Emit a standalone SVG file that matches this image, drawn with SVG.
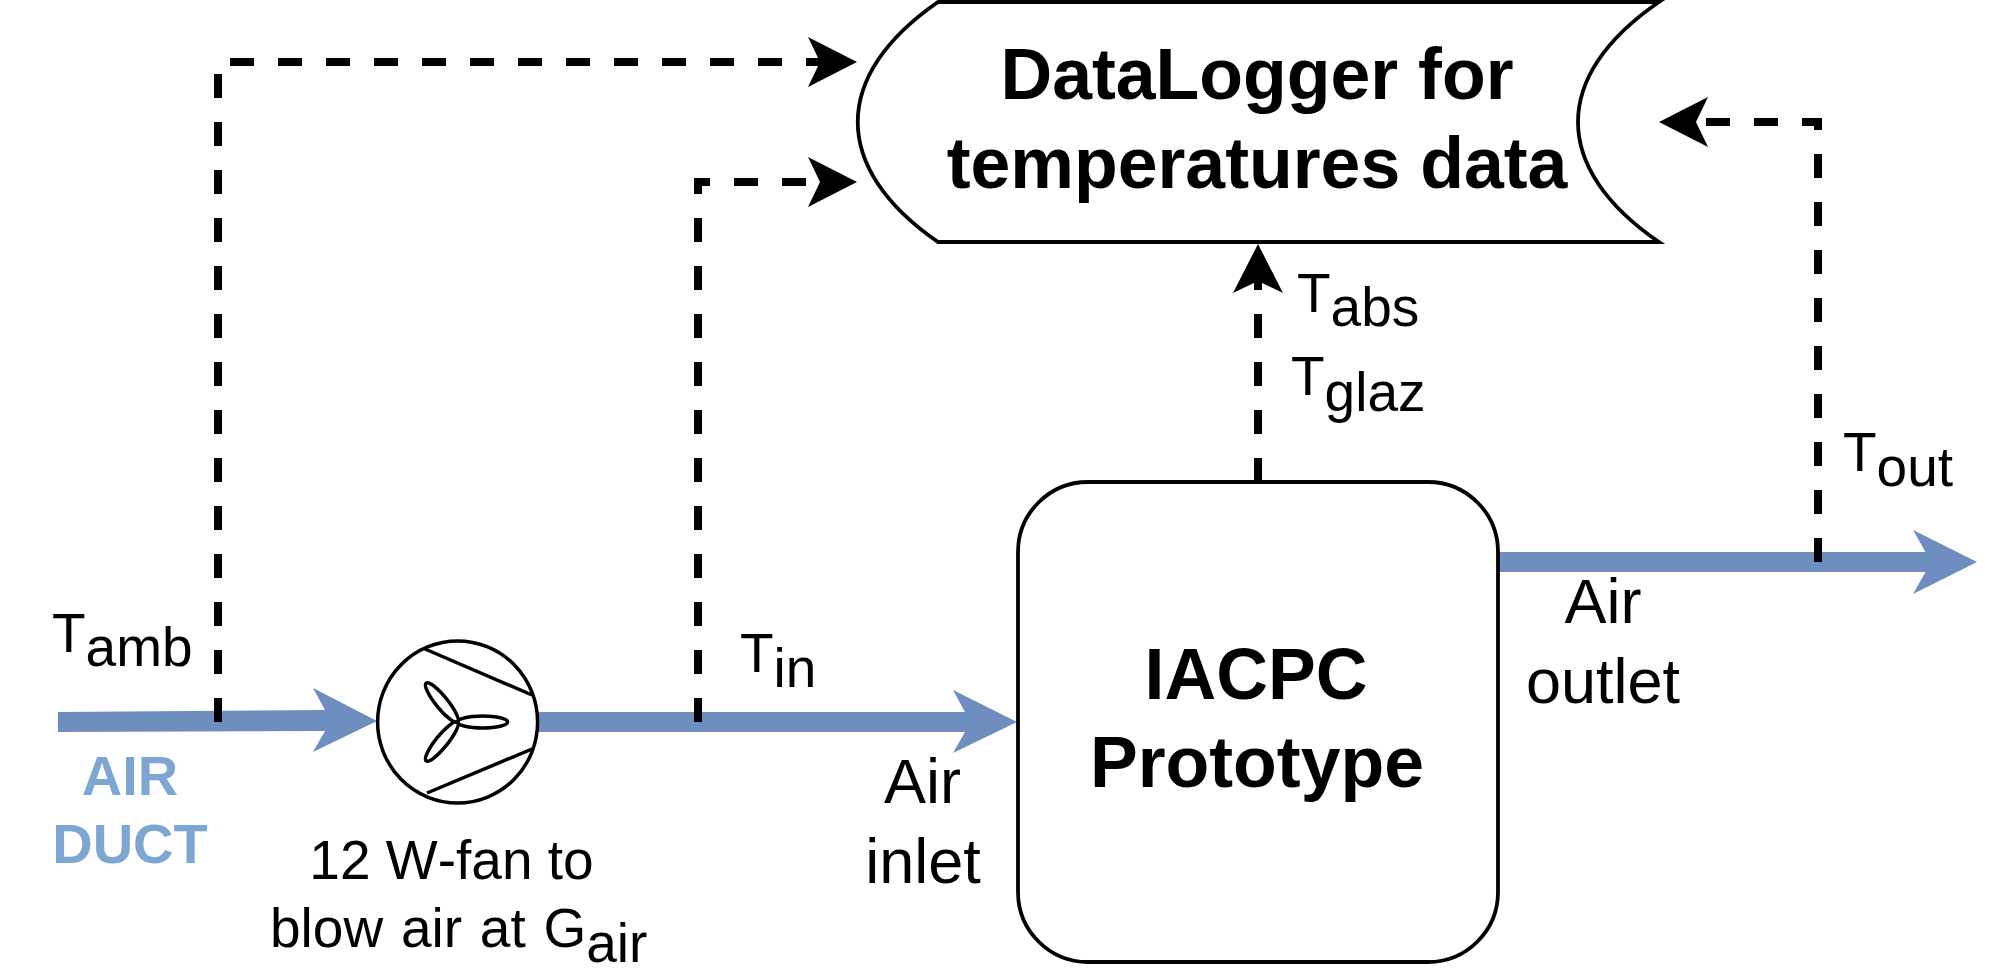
<svg xmlns="http://www.w3.org/2000/svg" width="2000" height="980" viewBox="0 0 2000 980">
<style>
text{font-family:"Liberation Sans",Arial,sans-serif;fill:#000}
.l{font-size:55px;font-kerning:none}
.a{font-size:63px;text-anchor:middle}
.b{font-size:71.6px;font-weight:bold;text-anchor:middle}
.m{text-anchor:middle}
.d{font-size:56px;font-weight:bold;fill:#7EA6D2;text-anchor:middle}
.s{fill:#fff;stroke:#000;stroke-width:3.8;stroke-miterlimit:10}
.o{fill:none;stroke:#000;stroke-width:3.5}
.dash{fill:none;stroke:#000;stroke-width:8;stroke-dasharray:24 24}
.air{fill:#6D8EBF}
</style>
<defs>
<path id="h" d="M0,0 L-49,-25 L-37,0 L-49,25 Z" fill="#000"/>
</defs>
<rect width="2000" height="980" fill="#fff"/>
<g id="air-flow">
<polygon class="air" points="58,712 325,710 313,688 377,721 313,752 325,731 58,732"/>
<polygon class="air" points="539,712 965,712 953,690 1017,722 953,753 965,732 539,732"/>
<polygon class="air" points="1498,552 1925.5,552 1913,530 1977,562 1913,594 1925.5,572 1498,572"/>
</g>
<g id="connectors">
<path class="dash" d="M218,722 V62 H830"/>
<path class="dash" d="M698,722 V182 H830"/>
<path class="dash" d="M1258,482 V260"/>
<path class="dash" d="M1818,562 V122 H1680"/>
<use href="#h" transform="translate(857,62)"/>
<use href="#h" transform="translate(857,182)"/>
<use href="#h" transform="translate(1258,244) rotate(-90)"/>
<use href="#h" transform="translate(1659,122) rotate(180)"/>
</g>
<g id="datalogger">
<path class="s" d="M938,2 H1659 C1551,76 1551,168 1659,242 H938 C831,168 831,76 938,2 Z"/>
<text class="b" x="1257" y="99">DataLogger for</text>
<text class="b" x="1257" y="188">temperatures data</text>
</g>
<g id="prototype">
<rect class="s" x="1018" y="482" width="480" height="480" rx="70" ry="70"/>
<text class="b" x="1256" y="699">IACPC</text>
<text class="b" x="1257" y="787">Prototype</text>
</g>
<g id="fan">
<ellipse class="o" style="fill:#fff" cx="457.6" cy="722" rx="80" ry="81"/>
<path class="o" d="M425,649 L532,695 M427,793 L532,749"/>
<ellipse class="o" cx="482.6" cy="722" rx="25" ry="6"/>
<ellipse class="o" cx="482.6" cy="722" rx="25" ry="6" transform="rotate(-129 457.6 722)"/>
<ellipse class="o" cx="482.6" cy="722" rx="25" ry="6" transform="rotate(129 457.6 722)"/>
</g>
<g id="labels">
<text class="l" x="52" y="652">T<tspan dy="14">amb</tspan></text>
<text class="d" x="130" y="795">AIR</text>
<text class="d" x="130" y="863">DUCT</text>
<text class="l m" x="451.5" y="879">12 W-fan to</text>
<text class="l" x="270" y="947" word-spacing="2.5">blow air at G<tspan dy="15">air</tspan></text>
<text class="l" x="740" y="672">T<tspan dy="15">in</tspan></text>
<text class="a" x="922.5" y="803">Air</text>
<text class="a" x="923" y="883">inlet</text>
<text class="a" x="1603" y="623">Air</text>
<text class="a" x="1603" y="703">outlet</text>
<text class="l" x="1297" y="312">T<tspan dy="14">abs</tspan></text>
<text class="l" x="1291" y="395">T<tspan dy="16">glaz</tspan></text>
<text class="l" x="1843" y="471">T<tspan dy="15">out</tspan></text>
</g>
</svg>
